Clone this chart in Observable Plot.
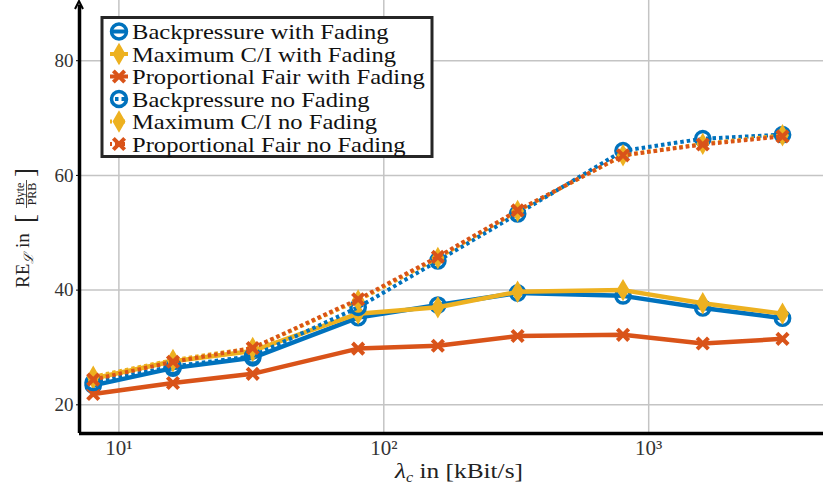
<!DOCTYPE html>
<html>
<head>
<meta charset="utf-8">
<script src="https://cdn.jsdelivr.net/npm/d3@7"></script>
<script src="https://cdn.jsdelivr.net/npm/@observablehq/plot@0.6"></script>
<style>
  html, body { margin: 0; padding: 0; background: #fff; }
  #chart { width: 823px; height: 490px; }
</style>
</head>
<body>
<div id="chart"></div>
<script>
// ---- data ----
const rates = [8, 16, 32, 80, 160, 320, 800, 1600, 3200];           // λc in kBit/s
const bpFading = [23.4, 26.4, 28.2, 35.2, 37.4, 39.5, 39.0, 36.9, 35.1];
const ciFading = [24.6, 27.6, 29.4, 35.9, 37.0, 39.7, 40.0, 37.7, 35.9];
const pfFading = [21.9, 23.8, 25.4, 29.8, 30.3, 32.0, 32.2, 30.7, 31.5];
const bpNoFading = [23.9, 26.7, 28.5, 37.0, 45.1, 53.3, 64.3, 66.4, 67.1];
const ciNoFading = [24.9, 27.8, 29.9, 38.2, 45.6, 53.8, 63.5, 65.5, 67.0];
const pfNoFading = [24.4, 27.5, 29.9, 38.4, 45.8, 53.9, 63.5, 65.4, 66.8];
const seriesNames = [
  "Backpressure with Fading",
  "Maximum C/I with Fading",
  "Proportional Fair with Fading",
  "Backpressure no Fading",
  "Maximum C/I no Fading",
  "Proportional Fair no Fading"
];
const xTicks = [10, 100, 1000];
const xTickLabels = ["10\u00B9", "10\u00B2", "10\u00B3"];
const yTicks = [20, 40, 60, 80];

// ---- styles ----
const BLUE = "#0072BD", YELLOW = "#EDB120", ORANGE = "#D95319";
const seriesValues = [bpFading, ciFading, pfFading, bpNoFading, ciNoFading, pfNoFading];
const seriesStyle = [
  {color: BLUE, symbol: "circle", dotted: false},
  {color: YELLOW, symbol: "diamond", dotted: false},
  {color: ORANGE, symbol: "times", dotted: false},
  {color: BLUE, symbol: "circle", dotted: true},
  {color: YELLOW, symbol: "diamond", dotted: true},
  {color: ORANGE, symbol: "times", dotted: true}
];
const series = seriesNames.map((name, i) => ({
  name, ...seriesStyle[i],
  rows: rates.map((x, j) => ({x, y: seriesValues[i][j]}))
}));

const FONT = "'Liberation Serif', 'DejaVu Serif', serif";

const marks = [
  Plot.gridX(xTicks, {stroke: "#c4c4c4", strokeOpacity: 1, strokeWidth: 1.5}),
  Plot.gridY(yTicks, {stroke: "#c4c4c4", strokeOpacity: 1, strokeWidth: 1.5}),
];
function dotMark(s) {
  if (s.symbol === "circle")
    return Plot.dot(s.rows, {x: "x", y: "y", symbol: "circle", r: 7.2, fill: "none", stroke: s.color, strokeWidth: 3.4});
  if (s.symbol === "diamond")
    return Plot.dot(s.rows, {x: "x", y: "y", symbol: "diamond", r: 5.6, fill: s.color, stroke: s.color, strokeWidth: 2});
  return Plot.dot(s.rows, {x: "x", y: "y", symbol: "times", r: 5.2, stroke: s.color, strokeWidth: 4, strokeLinecap: "butt"});
}
for (const s of series) {
  marks.push(Plot.line(s.rows, {
    x: "x", y: "y", stroke: s.color, strokeWidth: s.dotted ? 4 : 4.5,
    strokeDasharray: s.dotted ? "3.5,3" : null, strokeLinecap: "butt"
  }));
  marks.push(dotMark(s));
}
marks.push(
  Plot.ruleY([15], {stroke: "#000", strokeWidth: 3.5}),
  Plot.ruleX([7.1], {y1: 15, y2: 89.7, stroke: "#000", strokeWidth: 3.5}),
  Plot.axisY(yTicks, {tickSize: 3, tickPadding: 3, label: null, fill: "#333", stroke: "#000"}),
  Plot.text(xTicks, {
    x: (d) => d, frameAnchor: "bottom", lineAnchor: "top", dy: 7,
    text: (d, i) => xTickLabels[i], fontSize: 21, fill: "#333", fontFamily: FONT
  })
);

const plot = Plot.plot({
  width: 823,
  height: 490,
  marginLeft: 79,
  marginRight: 0,
  marginTop: 0,
  marginBottom: 57,
  style: {fontFamily: FONT, fontSize: "19px", background: "#fff", overflow: "visible"},
  x: {type: "log", domain: [7.1, 4570], axis: null},
  y: {domain: [15, 90.5]},
  marks
});
document.getElementById("chart").appendChild(plot);

// ---- decorations: arrow, axis labels, legend ----
const svg = d3.select(plot);
svg.selectAll("g[aria-label='y-axis tick label'] text").attr("font-size", 19);
const xs = plot.scale("x");
const ax = xs.apply(7.1);
svg.append("path")
  .attr("d", `M${ax - 4},${9} L${ax},${1} L${ax + 4},${9}`)
  .attr("fill", "none").attr("stroke", "#000").attr("stroke-width", 2);

// x label (stretched to the reference's width)
const xlg = svg.append("g");
const xl = xlg.append("text")
  .attr("x", 0).attr("y", 0)
  .attr("text-anchor", "middle")
  .attr("font-family", FONT).attr("font-size", 22).attr("fill", "#222");
xl.append("tspan").attr("font-style", "italic").text("\u03BB");
xl.append("tspan").attr("font-style", "italic").attr("font-size", 14).attr("dy", 4).text("c");
xl.append("tspan").attr("dy", -4).text(" in [kBit/s]");
{
  const w = xl.node().getComputedTextLength() || 120;
  xlg.attr("transform", `translate(459,478) scale(${128 / w},1)`);
}

// y label (rotated)
const yg = svg.append("g")
  .attr("transform", "translate(29,288) rotate(-90)")
  .attr("text-anchor", "start")
  .attr("font-family", FONT).attr("fill", "#222");
const yt = yg.append("text").attr("x", 0).attr("y", 0).attr("font-size", 19);
yt.append("tspan").text("RE");
yt.append("tspan").attr("font-size", 13).attr("font-style", "italic").attr("dy", 4).text("\u2112");
yt.append("tspan").attr("dy", -4).text(" in ");
yg.append("text").attr("x", 65).attr("y", 5).attr("font-size", 27).text("[");
yg.append("text").attr("x", 94).attr("y", -5).attr("font-size", 12).attr("text-anchor", "middle").text("Byte");
yg.append("line").attr("x1", 80).attr("x2", 108).attr("y1", -2.5).attr("y2", -2.5).attr("stroke", "#222").attr("stroke-width", 0.8);
yg.append("text").attr("x", 94).attr("y", 7).attr("font-size", 12).attr("text-anchor", "middle").text("PRB");
yg.append("text").attr("x", 111).attr("y", 5).attr("font-size", 27).text("]");

// legend
const lg = svg.append("g").attr("font-family", FONT).attr("text-anchor", "start");
lg.append("rect").attr("x", 102).attr("y", 17.5).attr("width", 330).attr("height", 139)
  .attr("fill", "#fff").attr("stroke", "#262626").attr("stroke-width", 3);
const legendTexts = [];
series.forEach((s, i) => {
  const cy = 31.5 + i * 22.5, cx = 119;
  const row = lg.append("g");
  row.append("line").attr("x1", cx - 9).attr("x2", cx + 9).attr("y1", cy).attr("y2", cy)
    .attr("stroke", s.color).attr("stroke-width", 4)
    .attr("stroke-dasharray", s.dotted ? "3.5,3" : null)
    .attr("stroke-dashoffset", s.dotted ? 1.5 : null);
  if (s.symbol === "circle") {
    row.append("circle").attr("cx", cx).attr("cy", cy).attr("r", 7.5)
      .attr("fill", "none").attr("stroke", s.color).attr("stroke-width", 3.5);
  } else if (s.symbol === "diamond") {
    row.append("path").attr("transform", `translate(${cx},${cy})`)
      .attr("d", d3.symbol(d3.symbolDiamond, Math.PI * 5.6 * 5.6)())
      .attr("fill", s.color).attr("stroke", s.color).attr("stroke-width", 2);
  } else {
    row.append("path").attr("transform", `translate(${cx},${cy})`)
      .attr("d", d3.symbol(d3.symbolTimes, Math.PI * 5.2 * 5.2)())
      .attr("fill", "none").attr("stroke", s.color).attr("stroke-width", 4);
  }
  const tg = row.append("g");
  const t = tg.append("text").attr("x", 0).attr("y", 0).attr("font-size", 21.5).attr("fill", "#111").text(s.name);
  legendTexts.push({tg, t, y: cy + 7.5});
});
{
  const maxW = d3.max(legendTexts, (d) => d.t.node().getComputedTextLength()) || 250;
  const f = 293 / maxW;
  legendTexts.forEach((d) => d.tg.attr("transform", `translate(132,${d.y}) scale(${f},1)`));
}
</script>
</body>
</html>
